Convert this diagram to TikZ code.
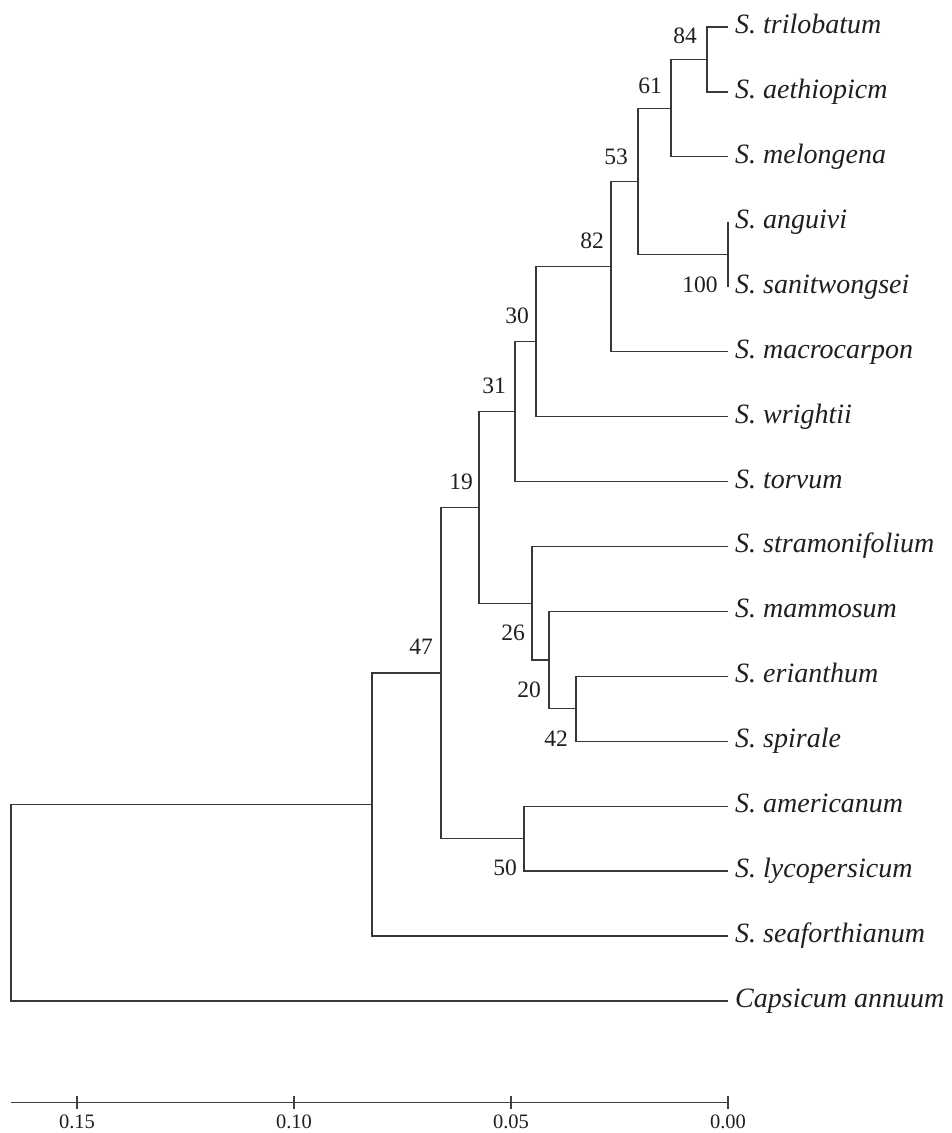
\documentclass[tikz,border=0pt]{standalone}
\usepackage{fontspec}
\setmainfont{Liberation Serif}
\tikzset{
  branch/.style={draw=black!78, line width=1.25pt},
  taxon/.style={anchor=base west, inner sep=0pt, font=\fontsize{28}{30}\selectfont\itshape, text=black!88},
  boot/.style={anchor=center, inner sep=0pt, font=\fontsize{23.5}{26}\selectfont, text=black!88},
  axisline/.style={draw=black!75, line width=1.7pt},
  ticklab/.style={anchor=center, inner sep=0pt, font=\fontsize{20.5}{22}\selectfont, text=black!88}
}
\begin{document}
\begin{tikzpicture}[x=1pt,y=-1pt]
\useasboundingbox (0,0) rectangle (952,1133);
% leaf tips
\foreach \i/\nm in {0/S. trilobatum,1/S. aethiopicm,2/S. melongena,3/S. anguivi,4/S. sanitwongsei,5/S. macrocarpon,6/S. wrightii,7/S. torvum,8/S. stramonifolium,9/S. mammosum,10/S. erianthum,11/S. spirale,12/S. americanum,13/S. lycopersicum,14/S. seaforthianum,15/Capsicum annuum}{
  \coordinate (t\i) at (728,{27+64.93*\i});
  \node[taxon] (lab\i) at (735,{33.5+64.93*\i}) {\nm};
}
% internal nodes
\coordinate (n84) at (707,59.5);
\coordinate (n61) at (671,108.2);
\coordinate (n100) at (728,254.3);
\coordinate (n53) at (638,181.2);
\coordinate (n82) at (611,266.5);
\coordinate (n30) at (536,341.5);
\coordinate (n31) at (515,411.5);
\coordinate (n42) at (576,708.8);
\coordinate (n20) at (549,660.1);
\coordinate (n26) at (532,603.2);
\coordinate (n19) at (479,507.4);
\coordinate (n50) at (524,838.7);
\coordinate (n47) at (441,673);
\coordinate (nA) at (372,804.5);
\coordinate (nR) at (11,902.8);
% branches
\draw[branch] (n84) |- (t0);  \draw[branch] (n84) |- (t1);
\draw[branch] (n61) |- (n84); \draw[branch] (n61) |- (t2);
\draw[branch] (t3) -- (t4);
\draw[branch] (n53) |- (n61); \draw[branch] (n53) |- (n100);
\draw[branch] (n82) |- (n53); \draw[branch] (n82) |- (t5);
\draw[branch] (n30) |- (n82); \draw[branch] (n30) |- (t6);
\draw[branch] (n31) |- (n30); \draw[branch] (n31) |- (t7);
\draw[branch] (n42) |- (t10); \draw[branch] (n42) |- (t11);
\draw[branch] (n20) |- (t9);  \draw[branch] (n20) |- (n42);
\draw[branch] (n26) |- (t8);  \draw[branch] (n26) |- (n20);
\draw[branch] (n19) |- (n31); \draw[branch] (n19) |- (n26);
\draw[branch] (n50) |- (t12); \draw[branch] (n50) |- (t13);
\draw[branch] (n47) |- (n19); \draw[branch] (n47) |- (n50);
\draw[branch] (nA) |- (n47);  \draw[branch] (nA) |- (t14);
\draw[branch] (nR) |- (nA);   \draw[branch] (nR) |- (t15);
% bootstrap values
\node[boot] (b84) at (685,36) {84};
\node[boot] (b61) at (650,86) {61};
\node[boot] (b53) at (616,157) {53};
\node[boot] (b82) at (592,241) {82};
\node[boot] (b100) at (700,285) {100};
\node[boot] (b30) at (517,316) {30};
\node[boot] (b31) at (494,386) {31};
\node[boot] (b19) at (461,482) {19};
\node[boot] (b26) at (513,633) {26};
\node[boot] (b20) at (529,690) {20};
\node[boot] (b42) at (556,739) {42};
\node[boot] (b47) at (421,647) {47};
\node[boot] (b50) at (505,868) {50};
% scale axis
\coordinate (a0) at (11,1102.5);
\coordinate (a1) at (728,1102.5);
\draw[axisline] (a0) -- (a1);
\foreach \x/\v in {77/0.15,294/0.10,511/0.05,728/0.00}{
  \draw[draw=black!75, line width=1.3pt] (\x,1096) -- (\x,1109);
  \node[ticklab] at (\x,1121.5) {\v};
}
\end{tikzpicture}
\end{document}
